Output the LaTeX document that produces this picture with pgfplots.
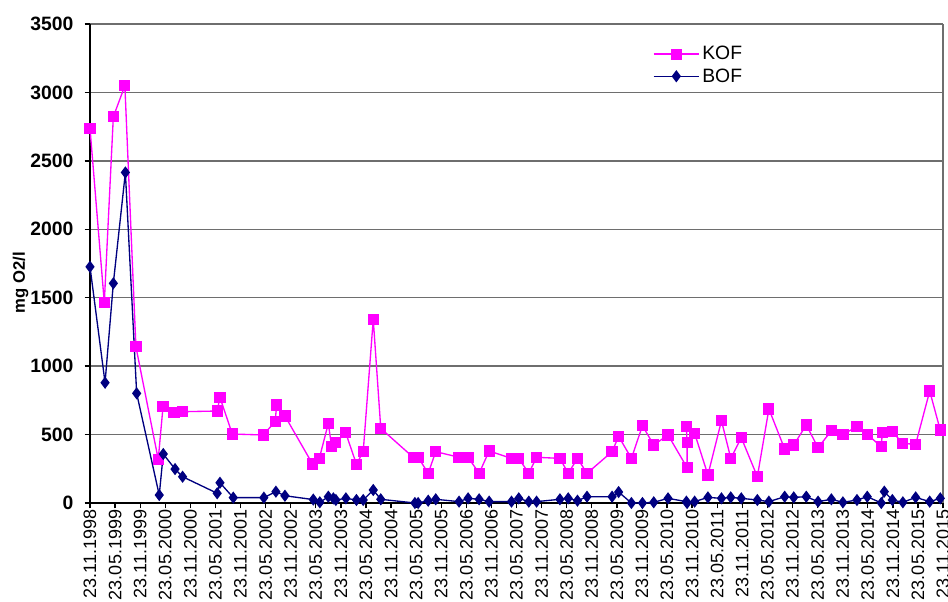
\documentclass[border=0pt]{standalone}
\usepackage{pgfplots}
\pgfplotsset{compat=1.18}
\usepackage{fontspec}
\setmainfont{Liberation Sans}
\definecolor{kof}{RGB}{255,0,255}
\definecolor{bof}{RGB}{0,0,128}
\definecolor{gridc}{RGB}{110,110,110}
\begin{document}
\begin{tikzpicture}
\begin{axis}[
  at={(67.5pt,74.25pt)}, anchor=south west,
  scale only axis, width=639.75pt, height=359.25pt,
  xmin=0, xmax=34, ymin=0, ymax=3500,
  axis lines*=left,
  axis line style={black, line width=1.2pt},
  xtick={0,...,34},
  xticklabels={23.11.1998,23.05.1999,23.11.1999,23.05.2000,23.11.2000,23.05.2001,23.11.2001,23.05.2002,23.11.2002,23.05.2003,23.11.2003,23.05.2004,23.11.2004,23.05.2005,23.11.2005,23.05.2006,23.11.2006,23.05.2007,23.11.2007,23.05.2008,23.11.2008,23.05.2009,23.11.2009,23.05.2010,23.11.2010,23.05.2011,23.11.2011,23.05.2012,23.11.2012,23.05.2013,23.11.2013,23.05.2014,23.11.2014,23.05.2015,23.11.2015},
  xticklabel style={rotate=90, anchor=east, font=\fontsize{13.5}{15}\selectfont, inner sep=1pt},
  ytick={0,500,...,3500},
  yticklabel style={font=\bfseries\fontsize{14.5}{16}\selectfont, xshift=-5pt},
  /pgf/number format/assume math mode=true,
  /pgf/number format/1000 sep={},
  tick align=outside, major tick length=4pt,
  tick style={black, line width=1pt},
  ymajorgrids, grid style={gridc, line width=1pt},
  ylabel={\bfseries mg O2/l},
  ylabel style={at={([xshift=-52pt]axis description cs:0,0.46)}, anchor=center, font=\fontsize{12.5}{14}\selectfont},
  legend style={at={(0.655,0.965)}, anchor=north west, draw=none, fill=none,
    font=\fontsize{14.5}{16}\selectfont, row sep=1pt},
  legend cell align=left,
  legend image code/.code={\draw[mark repeat=2,mark phase=2,#1] plot coordinates {(0pt,0pt) (17pt,0pt) (34pt,0pt)};},
  clip=false,
]
\addplot[kof, line width=1pt, mark=square*, mark size=3.7pt, mark options={solid}] coordinates {
(0,2737)(0.57,1463)(0.93,2822)(1.39,3049)(1.83,1142)(2.72,319)(2.91,703)(3.35,660)(3.68,667)
(5.07,672)(5.18,772)(5.67,504)(6.9,497)(7.38,594)(7.44,716)(7.77,636)(8.87,285)(9.14,326)
(9.5,582)(9.63,411)(9.79,440)(10.19,514)(10.62,283)(10.89,375)(11.29,1342)(11.59,545)
(12.88,334)(13.08,334)(13.48,217)(13.78,375)(14.71,334)(15.07,334)(15.51,217)(15.91,380)
(16.8,326)(17.09,326)(17.49,217)(17.8,334)(18.73,326)(19.06,217)(19.43,326)(19.81,217)
(20.81,375)(21.07,487)(21.58,326)(22.02,565)(22.47,424)(23.04,497)(23.8,258)(23.8,440)(23.77,557)
(24.1,509)(24.63,205)(25.17,601)(25.54,326)(25.96,477)(26.6,192)(27.06,687)(27.69,394)
(28.05,424)(28.55,570)(29.02,404)(29.55,528)(30.01,502)(30.57,557)(30.98,502)(31.54,411)
(31.58,514)(31.98,521)(32.4,435)(32.91,429)(33.47,818)(33.89,533)
};
\addlegendentry{KOF}
\addplot[bof, line width=1pt, mark=diamond*, mark size=3.8pt, mark options={solid}] coordinates {
(0,1726)(0.6,879)(0.93,1605)(1.41,2415)(1.86,801)(2.76,58)(2.92,358)(3.39,248)(3.69,192)
(5.07,71)(5.18,148)(5.71,39)(6.93,39)(7.41,83)(7.77,53)(8.9,25)(9.16,5)(9.5,46)(9.7,34)
(9.8,22)(10.2,34)(10.62,22)(10.89,22)(11.29,95)(11.59,27)(12.95,0)(13.08,0)(13.48,17)
(13.78,27)(14.71,10)(15.07,34)(15.51,27)(15.91,10)(16.8,10)(17.09,34)(17.49,10)(17.8,10)
(18.73,27)(19.06,34)(19.43,17)(19.81,46)(20.81,46)(21.07,80)(21.58,0)(22.02,0)(22.47,5)
(23.04,34)(23.77,10)(23.8,0)(24.1,10)(24.63,41)(25.17,34)(25.54,41)(25.96,34)(26.6,22)
(27.06,10)(27.69,46)(28.05,41)(28.55,46)(29.02,10)(29.55,27)(30.01,5)(30.57,22)(30.98,46)
(31.54,0)(31.66,83)(31.98,22)(32.4,5)(32.91,41)(33.47,10)(33.89,34)
};
\addlegendentry{BOF}
\draw[gridc, line width=1pt] (rel axis cs:1,0) -- (rel axis cs:1,1);
\end{axis}
\pgfresetboundingbox
\useasboundingbox (0,0) rectangle (711pt,451.5pt);
\end{tikzpicture}
\end{document}
